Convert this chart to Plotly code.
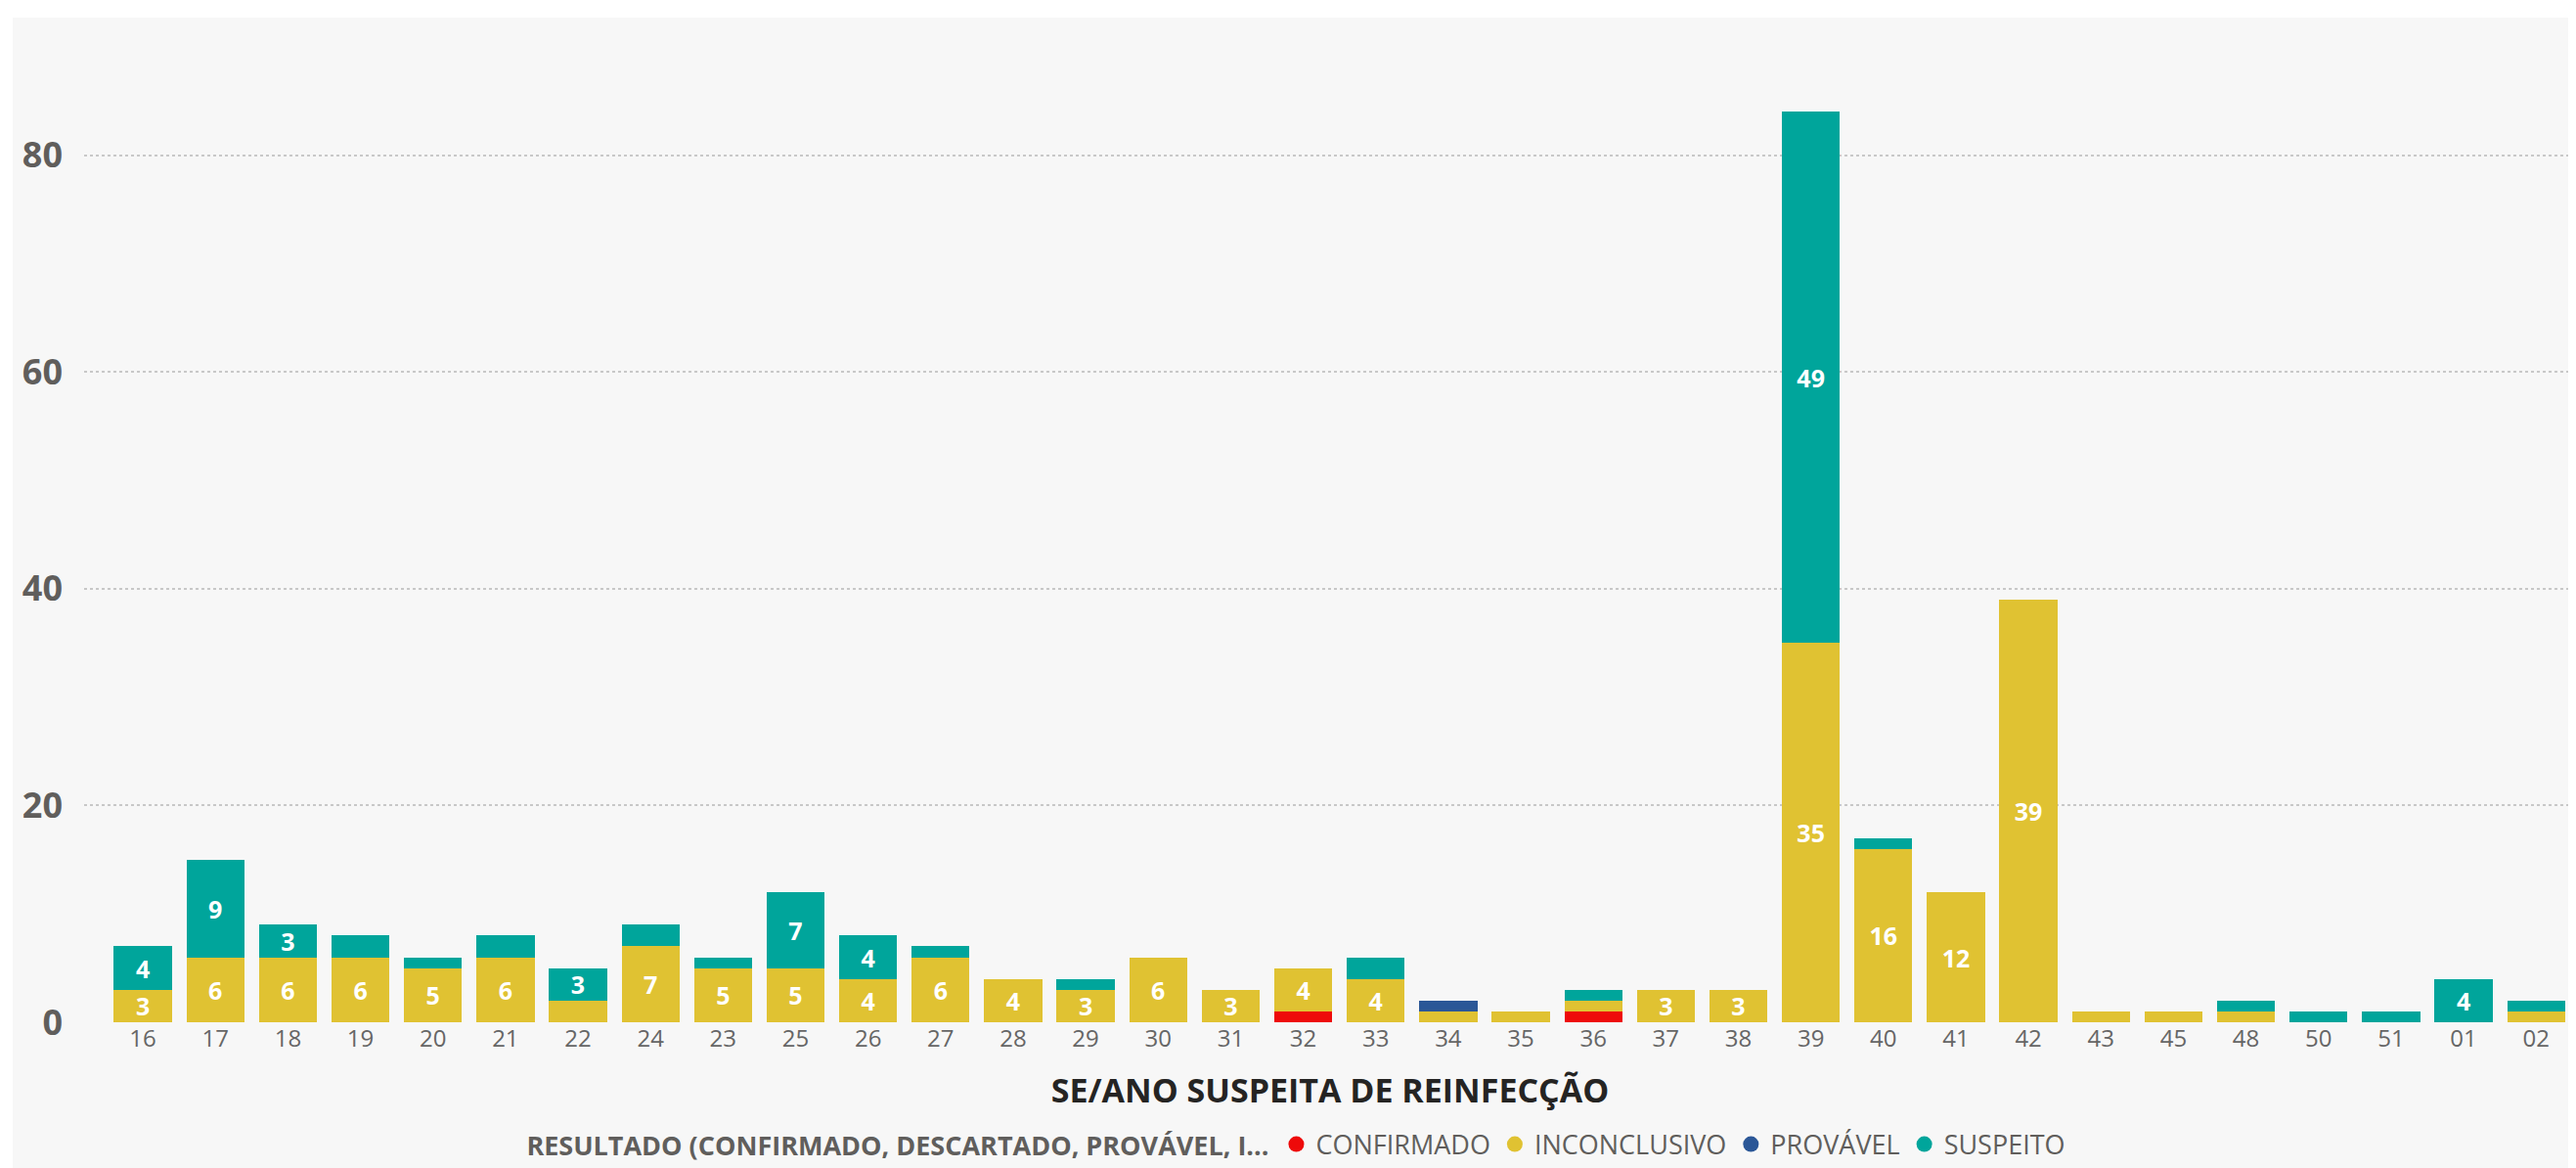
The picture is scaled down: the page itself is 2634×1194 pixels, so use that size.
import plotly.graph_objects as go

categories = ["16","17","18","19","20","21","22","24","23","25","26","27","28","29","30","31","32","33","34","35","36","37","38","39","40","41","42","43","45","48","50","51","01","02"]
confirmado   = [0,0,0,0,0,0,0,0,0,0,0,0,0,0,0,0,1,0,0,0,1,0,0,0,0,0,0,0,0,0,0,0,0,0]
inconclusivo = [3,6,6,6,5,6,2,7,5,5,4,6,4,3,6,3,4,4,1,1,1,3,3,35,16,12,39,1,1,1,0,0,0,1]
provavel     = [0,0,0,0,0,0,0,0,0,0,0,0,0,0,0,0,0,0,1,0,0,0,0,0,0,0,0,0,0,0,0,0,0,0]
suspeito     = [4,9,3,2,1,2,3,2,1,7,4,1,0,1,0,0,0,2,0,0,1,0,0,49,1,0,0,0,0,1,1,1,4,1]

series = [
    ("CONFIRMADO", confirmado, "#EE0A0A"),
    ("INCONCLUSIVO", inconclusivo, "#E0C232"),
    ("PROVÁVEL", provavel, "#2B5797"),
    ("SUSPEITO", suspeito, "#00A59B"),
]

FONT = "Open Sans"
W, H = 2634, 1194
L, R, T, B = 78, 8, 40, 157
PW, PH = W - L - R, H - T - B

fig = go.Figure()
for name, vals, color in series:
    fig.add_trace(go.Bar(
        x=categories, y=vals, name=name, marker=dict(color=color, line=dict(width=0)),
        text=[str(v) if v >= 3 else "" for v in vals],
        textposition="inside", insidetextanchor="middle", textangle=0,
        textfont=dict(color="white", size=25, family=FONT, weight="bold"),
        showlegend=False, hoverinfo="x+y+name",
    ))
    fig.add_trace(go.Scatter(
        x=[None], y=[None], mode="markers", name=name,
        marker=dict(color=color, size=22, symbol="circle"), showlegend=True,
    ))

n = len(categories)
fig.update_layout(
    barmode="stack", bargap=0.2,
    width=W, height=H,
    paper_bgcolor="white", plot_bgcolor="rgba(0,0,0,0)",
    margin=dict(l=L, r=R, t=T, b=B, autoexpand=False),
    font=dict(family=FONT, color="#666666"),
    uniformtext=dict(minsize=22, mode="show"),
    xaxis=dict(type="category", showgrid=False, showline=False, zeroline=False,
               range=[-0.81, n - 0.45],
               tickfont=dict(size=24, color="#666666"), ticks="", ticklen=0,
               title=dict(text="SE/ANO SUSPEITA DE REINFECÇÃO", standoff=27,
                          font=dict(size=34, color="#252423", family=FONT, weight="bold"))),
    yaxis=dict(range=[0, 90], tickvals=[0, 20, 40, 60, 80], showgrid=True,
               gridcolor="#C8C8C8", griddash="dot", gridwidth=2, zeroline=False,
               showline=False, ticklabelstandoff=21,
               tickfont=dict(size=36, color="#605E5C", family=FONT, weight="bold")),
    legend=dict(orientation="h", x=0.487, xanchor="center", yref="container",
                y=1 - 1162 / H, yanchor="middle", traceorder="normal",
                font=dict(size=27, color="#605E5C"), itemsizing="trace",
                title=dict(text="RESULTADO (CONFIRMADO, DESCARTADO, PROVÁVEL, I...",
                           font=dict(size=27, color="#605E5C", weight="bold")),
                bgcolor="rgba(0,0,0,0)", itemwidth=30, tracegroupgap=0),
)

# light grey card background with thin white frame
fig.add_shape(type="rect", xref="paper", yref="paper",
              x0=(5 - L) / PW, x1=(W - 5 - L) / PW,
              y0=-(H - 5 - (T + PH)) / PH, y1=1 + (T - 10) / PH,
              line=dict(width=0), fillcolor="#F7F7F7", layer="below")

fig.write_html("out.html")
